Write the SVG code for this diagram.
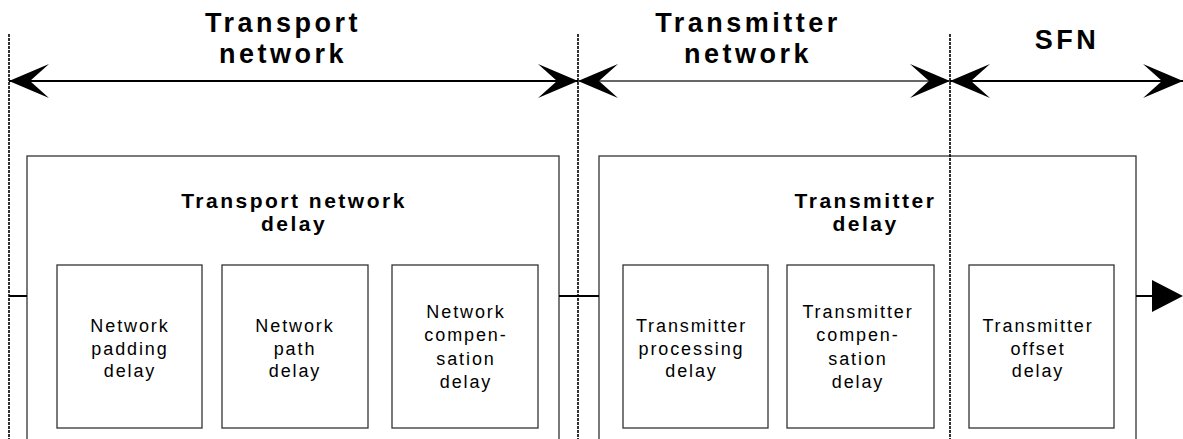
<svg xmlns="http://www.w3.org/2000/svg" width="1183" height="439" viewBox="0 0 1183 439">
<style>
.bg{fill:#fff}
.div{stroke:#000;stroke-width:1.6;stroke-dasharray:3 1;fill:none}
.big{fill:#fff;stroke:#333;stroke-width:1.3}
.small{fill:#fff;stroke:#333;stroke-width:1.3}
.thick{stroke:#000;stroke-width:2.2;fill:none}
.thin{stroke:#333;stroke-width:1.3;fill:none}
.conn{stroke:#000;stroke-width:2;fill:none}
.head{font-family:"Liberation Sans",Arial,sans-serif;font-weight:bold;font-size:27px;letter-spacing:3.5px;text-anchor:middle;fill:#000}
.title{font-family:"Liberation Sans",Arial,sans-serif;font-weight:bold;font-size:21px;letter-spacing:2.5px;text-anchor:middle;fill:#000}
.lbl{font-family:"Liberation Sans",Arial,sans-serif;font-size:18px;letter-spacing:1.9px;text-anchor:middle;fill:#000}
</style>
<defs>
<marker id="stealth" viewBox="0 0 40 34" markerWidth="40" markerHeight="34" refX="40" refY="17" orient="auto-start-reverse" markerUnits="userSpaceOnUse">
<path d="M0,0 L40,17 L0,34 L19,17 Z" fill="#000"/>
</marker>
</defs>
<rect class="bg" x="0" y="0" width="1183" height="439"/>

<g id="dividers">
<line class="div" x1="9" y1="34" x2="9" y2="439"/>
<line class="div" x1="578" y1="34" x2="578" y2="439"/>
</g>

<g id="region-labels">
<text class="head" x="283" y="31.5">Transport</text>
<text class="head" x="283" y="63">network</text>
<text class="head" x="748" y="31.5">Transmitter</text>
<text class="head" x="748" y="63">network</text>
<text class="head" x="1067" y="49">SFN</text>
</g>

<g id="transport-network-delay">
<rect class="big" x="27" y="156" width="532" height="300"/>
<text class="title" x="294" y="208">Transport network</text>
<text class="title" x="294" y="231">delay</text>
</g>

<g id="transmitter-delay">
<rect class="big" x="599" y="156" width="537" height="300"/>
<text class="title" x="865.5" y="208">Transmitter</text>
<text class="title" x="865.5" y="231">delay</text>
</g>

<line class="div" x1="950" y1="34" x2="950" y2="439"/>

<g id="network-padding-delay">
<rect class="small" x="57" y="265" width="145" height="163"/>
<text class="lbl" x="130" y="332">Network</text>
<text class="lbl" x="130" y="354.5">padding</text>
<text class="lbl" x="130" y="377">delay</text>
</g>

<g id="network-path-delay">
<rect class="small" x="222" y="265" width="146" height="163"/>
<text class="lbl" x="295" y="332">Network</text>
<text class="lbl" x="295" y="354.5">path</text>
<text class="lbl" x="295" y="377">delay</text>
</g>

<g id="network-compensation-delay">
<rect class="small" x="392" y="265" width="146" height="163"/>
<text class="lbl" x="466" y="318">Network</text>
<text class="lbl" x="466" y="341">compen-</text>
<text class="lbl" x="466" y="364.5">sation</text>
<text class="lbl" x="466" y="388">delay</text>
</g>

<g id="transmitter-processing-delay">
<rect class="small" x="623" y="265" width="145" height="163"/>
<text class="lbl" x="691.5" y="332">Transmitter</text>
<text class="lbl" x="691.5" y="354.5">processing</text>
<text class="lbl" x="691.5" y="377">delay</text>
</g>

<g id="transmitter-compensation-delay">
<rect class="small" x="787" y="265" width="147" height="163"/>
<text class="lbl" x="858" y="318">Transmitter</text>
<text class="lbl" x="858" y="341">compen-</text>
<text class="lbl" x="858" y="364.5">sation</text>
<text class="lbl" x="858" y="388">delay</text>
</g>

<g id="transmitter-offset-delay">
<rect class="small" x="969" y="265" width="145" height="163"/>
<text class="lbl" x="1038" y="332">Transmitter</text>
<text class="lbl" x="1038" y="354.5">offset</text>
<text class="lbl" x="1038" y="377">delay</text>
</g>

<g id="connectors">
<line class="thick" x1="9" y1="81" x2="578" y2="81" marker-start="url(#stealth)" marker-end="url(#stealth)"/>
<line class="thin" x1="578" y1="81" x2="950" y2="81" marker-start="url(#stealth)" marker-end="url(#stealth)"/>
<line class="thick" x1="950" y1="81" x2="1183" y2="81" marker-start="url(#stealth)" marker-end="url(#stealth)"/>
<line class="conn" x1="9" y1="296" x2="27" y2="296"/>
<line class="conn" x1="559" y1="296" x2="599" y2="296"/>
<line class="conn" x1="1136" y1="296" x2="1155" y2="296"/>
<path d="M1152,280 L1183,296 L1152,312 Z" fill="#000"/>
</g>
</svg>
